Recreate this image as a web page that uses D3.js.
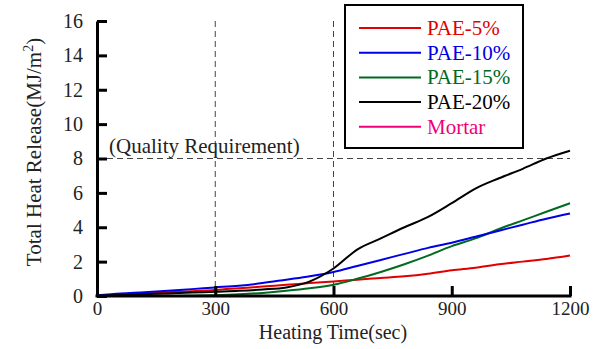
<!DOCTYPE html>
<html>
<head>
<meta charset="utf-8">
<script src="https://cdn.jsdelivr.net/npm/d3@7"></script>
<style>
  body { margin: 0; background: #fff; }
</style>
</head>
<body>
<div id="chart"></div>
<script>
// heating time (sec)
var times = [0, 60, 120, 180, 240, 300, 360, 420, 480, 540, 600, 660, 720, 780, 840, 900, 960, 1020, 1080, 1140, 1200];

// total heat release (MJ/m2)
var pae5  = [0, 0.08, 0.15, 0.22, 0.28, 0.35, 0.45, 0.55, 0.65, 0.75, 0.85, 0.95, 1.05, 1.15, 1.3, 1.5, 1.65, 1.85, 2.0, 2.15, 2.35];
var pae10 = [0.05, 0.15, 0.22, 0.3, 0.4, 0.5, 0.6, 0.75, 0.95, 1.15, 1.4, 1.75, 2.1, 2.45, 2.8, 3.1, 3.45, 3.8, 4.15, 4.5, 4.8];
var pae15 = [0, 0, 0, 0, 0.02, 0.05, 0.1, 0.18, 0.3, 0.45, 0.65, 1.0, 1.4, 1.85, 2.35, 2.9, 3.35, 3.9, 4.4, 4.9, 5.4];
var pae20 = [0, 0.05, 0.1, 0.15, 0.2, 0.25, 0.3, 0.38, 0.5, 0.85, 1.6, 2.7, 3.35, 4.0, 4.6, 5.4, 6.25, 6.85, 7.4, 8.0, 8.45];
var mortar = [0, 0, 0, 0, 0, 0, 0, 0, 0, 0, 0, 0, 0, 0, 0, 0, 0, 0, 0, 0, 0];

var seriesNames = ['PAE-5%', 'PAE-10%', 'PAE-15%', 'PAE-20%', 'Mortar'];
var seriesColors = ['#e00000', '#0000e6', '#006a1e', '#000000', '#f0007a'];
var xTicks = [0, 300, 600, 900, 1200];
var yTicks = [0, 2, 4, 6, 8, 10, 12, 14, 16];
var requirement = 8;

var serif = '"Liberation Serif", "Times New Roman", "DejaVu Serif", serif';

var svgWidth = 601,
    svgHeight = 349,
    margin = { top: 21, right: 31, bottom: 53, left: 97 },
    width = svgWidth - margin.left - margin.right,
    height = svgHeight - margin.top - margin.bottom;

var svg = d3.select('#chart').append('svg')
    .attr('width', svgWidth)
    .attr('height', svgHeight)
    .attr('font-family', serif);

var g = svg.append('g')
    .attr('transform', 'translate(' + margin.left + ',' + margin.top + ')');

var x = d3.scaleLinear().domain([0, 1200]).range([0, width]),
    y = d3.scaleLinear().domain([0, 16]).range([height, 0]);

// reference lines
g.selectAll('.vref').data([300, 600]).enter().append('line')
    .attr('x1', function (d) { return x(d); })
    .attr('x2', function (d) { return x(d); })
    .attr('y1', y(16))
    .attr('y2', y(0))
    .attr('stroke', '#444')
    .attr('stroke-width', 1)
    .attr('stroke-dasharray', '6,4');

g.append('line')
    .attr('x1', x(0)).attr('x2', x(1200))
    .attr('y1', y(requirement)).attr('y2', y(requirement))
    .attr('stroke', '#444')
    .attr('stroke-width', 1)
    .attr('stroke-dasharray', '6,4');

g.append('text')
    .attr('x', 12)
    .attr('y', y(requirement) - 6)
    .attr('font-size', 21)
    .attr('fill', '#222')
    .text('(Quality Requirement)');

// curves
var allData = [pae5, pae10, pae15, pae20, mortar];
var line = d3.line()
    .x(function (d, i) { return x(times[i]); })
    .y(function (d) { return y(d); })
    .curve(d3.curveMonotoneX);

// mortar first so it sits under the others
[4, 0, 2, 1, 3].forEach(function (k) {
    g.append('path')
        .attr('d', line(allData[k]))
        .attr('fill', 'none')
        .attr('stroke', seriesColors[k])
        .attr('stroke-width', 2);
});

// axes
var xAxis = d3.axisBottom(x).tickValues(xTicks).tickFormat(d3.format('d'))
        .tickSizeInner(-10).tickSizeOuter(0).tickPadding(6),
    yAxis = d3.axisLeft(y).tickValues(yTicks).tickFormat(d3.format('d'))
        .tickSizeInner(-10).tickSizeOuter(0).tickPadding(14);

var gx = g.append('g')
    .attr('transform', 'translate(0,' + height + ')')
    .call(xAxis);
var gy = g.append('g').call(yAxis);

[gx, gy].forEach(function (a) {
    a.attr('font-family', serif).attr('font-size', 20);
    a.selectAll('path, line').attr('stroke', '#000').attr('stroke-width', 3);
    a.selectAll('text').attr('fill', '#222');
});
gx.attr('font-size', 19);
gx.select('.domain').attr('d', 'M-1.5,0H' + (width + 1.5));

// axis titles
svg.append('text')
    .attr('x', 333)
    .attr('y', 339)
    .attr('text-anchor', 'middle')
    .attr('font-size', 20)
    .attr('fill', '#222')
    .text('Heating Time(sec)');

var yt = svg.append('text')
    .attr('transform', 'translate(41,152) rotate(-90)')
    .attr('text-anchor', 'middle')
    .attr('font-size', 21)
    .attr('fill', '#222');
yt.append('tspan').text('Total Heat Release(MJ/m');
yt.append('tspan').attr('dy', -8).attr('font-size', 14).text('2');
yt.append('tspan').attr('dy', 8).text(')');

// legend
var legend = svg.append('g').attr('transform', 'translate(345,5)');
legend.append('rect')
    .attr('width', 178)
    .attr('height', 143)
    .attr('fill', '#fff')
    .attr('stroke', '#000')
    .attr('stroke-width', 2);

var items = legend.selectAll('.item').data(seriesNames).enter().append('g')
    .attr('transform', function (d, i) { return 'translate(0,' + (23 + i * 24.7) + ')'; });
items.append('line')
    .attr('x1', 14).attr('x2', 76)
    .attr('stroke', function (d, i) { return seriesColors[i]; })
    .attr('stroke-width', 2);
items.append('text')
    .attr('x', 82)
    .attr('y', 7)
    .attr('font-size', 21)
    .attr('fill', function (d, i) { return seriesColors[i]; })
    .text(function (d) { return d; });
</script>
</body>
</html>
